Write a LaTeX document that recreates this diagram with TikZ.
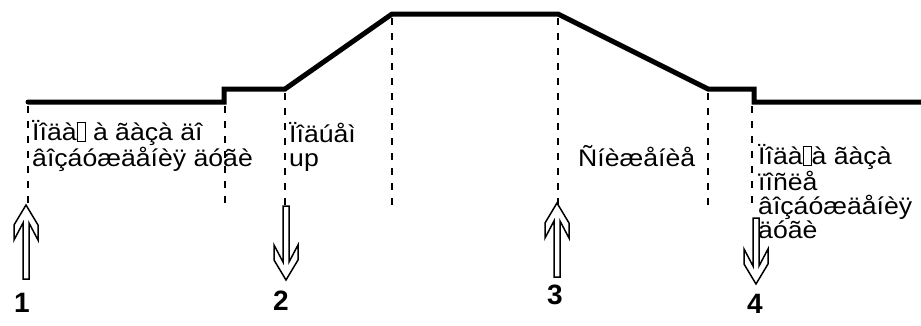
\documentclass[tikz,border=0pt]{standalone}
\usepackage{fontspec}
\setmainfont{Liberation Sans}
\newfontfamily\labelfont[FakeStretch=1.11]{Liberation Sans}
\newcommand\nochar{{\fboxsep=0pt\fboxrule=0.9pt\fbox{\rule{0pt}{0.72em}\hspace{0.3em}}}}
\tikzset{
  label/.style={anchor=base west, inner sep=0pt, align=left, font=\labelfont\fontsize{24}{24}\selectfont},
  num/.style={inner sep=0pt, font=\fontsize{28}{28}\selectfont\bfseries},
  guide/.style={line width=2pt, dash pattern=on 7pt off 8pt},
  profile/.style={line width=5pt, line join=miter, line cap=round},
  arrowline/.style={line width=1.5pt, line join=miter},
  pics/hollow arrow/.style={code={
    \draw[arrowline] (0,0) -- (12,20) -- (12,35) -- (3,18) -- (3,#1) -- (-3,#1)
      -- (-3,18) -- (-12,35) -- (-12,20) -- cycle;}},
}
\begin{document}
\begin{tikzpicture}[x=1pt,y=-1pt]
            \useasboundingbox (0,0) rectangle (921,325);

            \draw[profile] (28,102) -- (224,102) -- (224,89) -- (285,89) -- (392,14)
              -- (558,14) -- (708,89) -- (754,89) -- (754,102) -- (925,102);

            \draw[guide] (28,106) -- (28,205);
            \draw[guide] (225,106) -- (225,205);
            \draw[guide] (285,93) -- (285,210);
            \draw[guide] (392,18) -- (392,212);
            \draw[guide] (558,18) -- (558,205);
            \draw[guide] (708,93) -- (708,205);
            \draw[guide] (752,106) -- (752,205);

            % multi-line labels sit on the baseline of their last line
            \node[label] (feed) at (32,166) {Ïîäà\nochar{} à ãàçà äî\\âîçáóæäåíèÿ äóãè};
            \node[label] (rise) at (289,166) {Ïîäúåì\\up};
            \node[label] (fall) at (578,166) {Ñíèæåíèå};
            \node[label] (after) at (758,238) {Ïîäà\nochar{}à ãàçà\\ïîñëå\\âîçáóæäåíèÿ\\äóãè};

            \pic at (26,205) {hollow arrow=74};
            \pic[yscale=-1] at (286,280) {hollow arrow=74};
            \pic at (557,203) {hollow arrow=74};
            \pic[yscale=-1] at (756,284) {hollow arrow=66};

            \node[num] (n1) at (22,303) {1};
            \node[num] (n2) at (281,301) {2};
            \node[num] (n3) at (555,295) {3};
            \node[num] (n4) at (755,304) {4};
        \end{tikzpicture}
\end{document}
